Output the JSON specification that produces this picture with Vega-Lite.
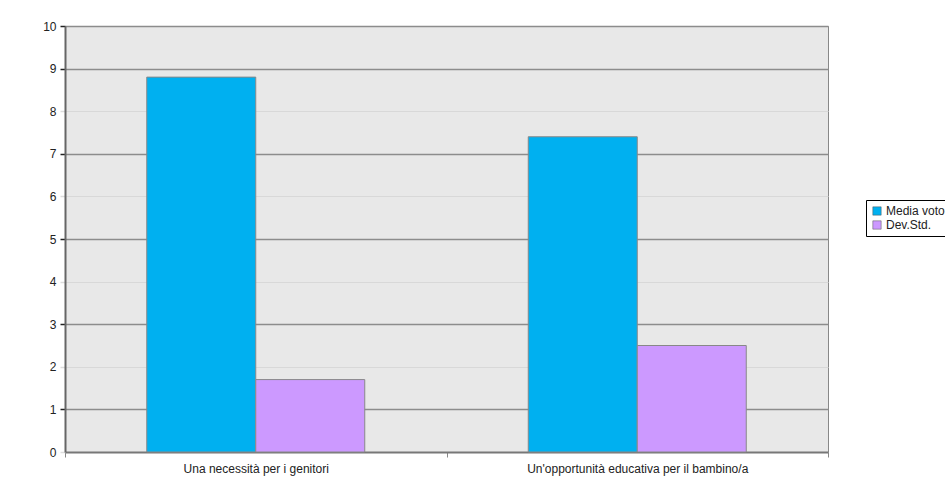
{
  "$schema": "https://vega.github.io/schema/vega-lite/v6.json",
  "width": 763,
  "height": 426,
  "autosize": {"type": "none"},
  "padding": {"left": 65, "top": 26, "right": 117, "bottom": 43},
  "background": "white",
  "config": {
    "view": {"fill": "#e8e8e8", "stroke": "#888888", "strokeWidth": 1},
    "font": "Liberation Sans"
  },
  "data": {
    "values": [
      {"categoria": "Una necessità per i genitori", "serie": "Media voto", "valore": 8.8},
      {"categoria": "Una necessità per i genitori", "serie": "Dev.Std.", "valore": 1.7},
      {"categoria": "Un'opportunità educativa per il bambino/a", "serie": "Media voto", "valore": 7.4},
      {"categoria": "Un'opportunità educativa per il bambino/a", "serie": "Dev.Std.", "valore": 2.5}
    ]
  },
  "mark": {"type": "bar", "stroke": "#888888", "strokeWidth": 1},
  "encoding": {
    "x": {
      "field": "categoria",
      "type": "nominal",
      "sort": null,
      "scale": {"paddingInner": 0, "paddingOuter": 0},
      "axis": {
        "title": null,
        "labelAngle": 0,
        "labelFontSize": 12,
        "labelLimit": 0,
        "labelColor": "#222222",
        "labelPadding": 6,
        "tickBand": "extent",
        "tickColor": "#888888",
        "tickSize": 5,
        "domainColor": "#777777",
        "domainWidth": 2,
        "grid": false
      }
    },
    "xOffset": {
      "field": "serie",
      "type": "nominal",
      "sort": ["Media voto", "Dev.Std."],
      "scale": {"paddingInner": 0, "paddingOuter": 0.75}
    },
    "y": {
      "field": "valore",
      "type": "quantitative",
      "scale": {"domain": [0, 10], "nice": false},
      "axis": {
        "title": null,
        "values": [0, 1, 2, 3, 4, 5, 6, 7, 8, 9, 10],
        "labelFontSize": 12,
        "labelColor": "#222222",
        "labelPadding": 4,
        "tickColor": {"condition": {"test": "datum.value % 2 === 1 || datum.value === 10", "value": "#222222"}, "value": "#dddddd"},
        "tickSize": 5,
        "tickWidth": 1.5,
        "domainColor": "#666666",
        "domainWidth": 2,
        "grid": true,
        "gridColor": {"condition": {"test": "datum.value % 2 === 1 || datum.value === 10", "value": "#8c8c8c"}, "value": "#d8d8d8"},
        "gridWidth": {"condition": {"test": "datum.value % 2 === 1 || datum.value === 10", "value": 1.5}, "value": 1}
      }
    },
    "color": {
      "field": "serie",
      "type": "nominal",
      "sort": ["Media voto", "Dev.Std."],
      "scale": {"domain": ["Media voto", "Dev.Std."], "range": ["#00b0f0", "#cc99ff"]},
      "legend": {
        "title": null,
        "orient": "none",
        "legendX": 801,
        "legendY": 174,
        "strokeColor": "#000000",
        "padding": 5,
        "symbolType": "square",
        "symbolSize": 70,
        "symbolStrokeColor": "#555555",
        "symbolStrokeWidth": 0.5,
        "labelFontSize": 12,
        "labelColor": "#222222",
        "rowPadding": 2,
        "labelOffset": 3
      }
    }
  }
}
